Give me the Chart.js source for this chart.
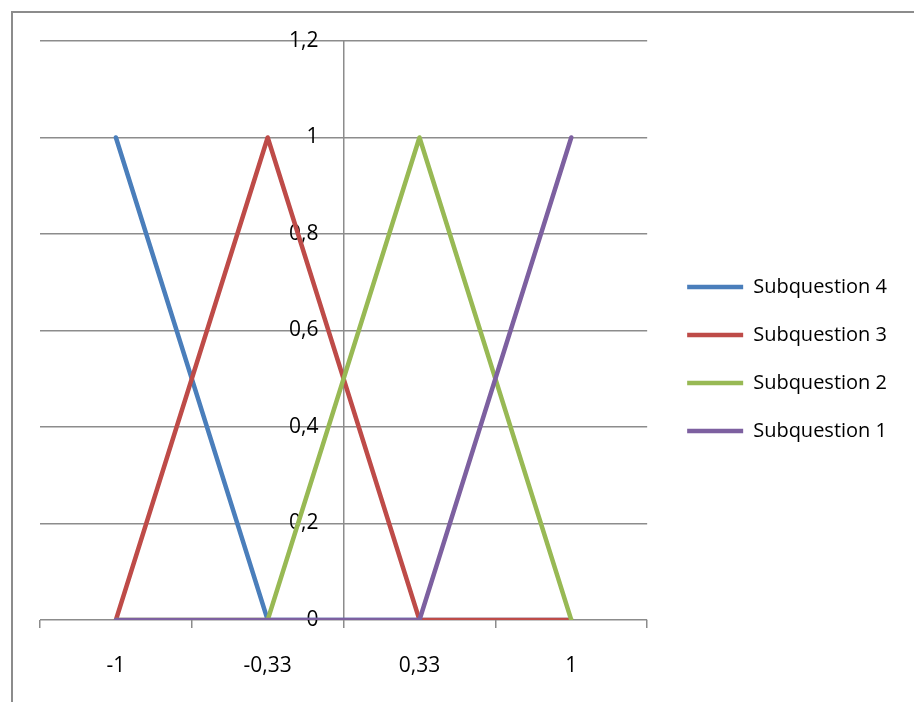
<!DOCTYPE html>
<html>
<head>
<meta charset="utf-8">
<script src="https://cdn.jsdelivr.net/npm/chart.js@4.4.1/dist/chart.umd.min.js"></script>
<style>
	html, body { margin: 0; padding: 0; background: #fff; }
	#wrap { position: relative; width: 914px; height: 702px; overflow: hidden; }
	#frame { position: absolute; left: 11px; top: 11px; width: 1000px; height: 1000px;
		border-left: 2px solid #8c8c8c; border-top: 2px solid #8c8c8c; }
	canvas { position: absolute; left: 0; top: 0; }
</style>
</head>
<body>
<div id="wrap">
	<div id="frame"></div>
	<canvas id="chart" width="914" height="702"></canvas>
</div>
<script>
const categories = ['-1', '-0,33', '0,33', '1'];
const sub4 = [1, 0, 0, 0];
const sub3 = [0, 1, 0, 0];
const sub2 = [0, 0, 1, 0];
const sub1 = [0, 0, 0, 1];

const series = [
	{label: 'Subquestion 4', values: sub4, color: '#4a7ebb', order: 4},
	{label: 'Subquestion 3', values: sub3, color: '#be4b48', order: 3},
	{label: 'Subquestion 2', values: sub2, color: '#98b954', order: 2},
	{label: 'Subquestion 1', values: sub1, color: '#7d60a0', order: 1},
];

const gridColor = '#8c8c8c';
const clear = 'rgba(0,0,0,0)';
const font = {family: '"Open Sans", Lato, sans-serif', size: 21};
// legend rows: text given as one-line arrays so lineHeight + padding sets the row step
const legendFont = {family: '"Open Sans", Lato, sans-serif', size: 20, lineHeight: '8px'};

// tick marks sit between categories, labels sit on them
const xTicks = [];
for (let i = 0; i <= categories.length * 2; ++i) {
	xTicks.push(i / 2 - 0.5);
}
const yAxisAt = (categories.length - 1) / 2;
// value labels end a bit left of the axis line
const yLabelsAt = yAxisAt - 0.165;

const fmt = (v) => String(Math.round(v * 10) / 10).replace('.', ',');

const ctx = document.getElementById('chart').getContext('2d');
const chart = new Chart(ctx, {
	type: 'line',
	data: {
		datasets: series.map((s) => ({
			label: s.label,
			data: s.values.map((v, i) => ({x: i, y: v})),
			borderColor: s.color,
			backgroundColor: s.color,
			borderWidth: 4.5,
			borderCapStyle: 'round',
			borderJoinStyle: 'round',
			pointRadius: 0,
			tension: 0,
			order: s.order,
		})),
	},
	options: {
		responsive: false,
		animation: false,
		layout: {padding: {left: 40, top: 41, right: 17, bottom: 25}},
		plugins: {
			legend: {
				position: 'right',
				reverse: true,
				maxWidth: 300,
				// empty title only nudges the rows up a little
				title: {display: true, text: '', font: {size: 1, lineHeight: '0px'}, padding: {top: -12, bottom: 0}},
				labels: {
					usePointStyle: true,
					pointStyle: 'line',
					pointStyleWidth: 56,
					boxHeight: 4,
					padding: 40,
					color: '#000',
					font: legendFont,
					generateLabels: (c) => Chart.defaults.plugins.legend.labels.generateLabels(c)
						.map((item) => Object.assign(item, {text: [item.text]})),
				},
			},
			tooltip: {enabled: false},
		},
		scales: {
			x: {
				type: 'linear',
				min: -0.5,
				max: categories.length - 0.5,
				afterBuildTicks: (scale) => {
					scale.ticks = xTicks.map((value) => ({value}));
				},
				afterFit: (scale) => {
					scale.height = 57;
				},
				grid: {
					tickLength: 8,
					lineWidth: 1.5,
					color: (c) => c.tick && c.tick.value === yAxisAt ? gridColor : clear,
					tickColor: (c) => Number.isInteger(c.tick && c.tick.value) ? clear : gridColor,
				},
				border: {display: false},
				ticks: {
					autoSkip: false,
					maxRotation: 0,
					padding: 25,
					color: '#000',
					font,
					callback: (v) => Number.isInteger(v) ? categories[v] : '',
				},
			},
			y: {
				type: 'linear',
				position: {x: yLabelsAt},
				min: 0,
				max: 1.2,
				grid: {
					color: gridColor,
					lineWidth: 1.5,
					drawTicks: false,
				},
				border: {display: false},
				ticks: {
					stepSize: 0.2,
					color: '#000',
					font,
					callback: fmt,
				},
			},
		},
	},
});
</script>
</body>
</html>
